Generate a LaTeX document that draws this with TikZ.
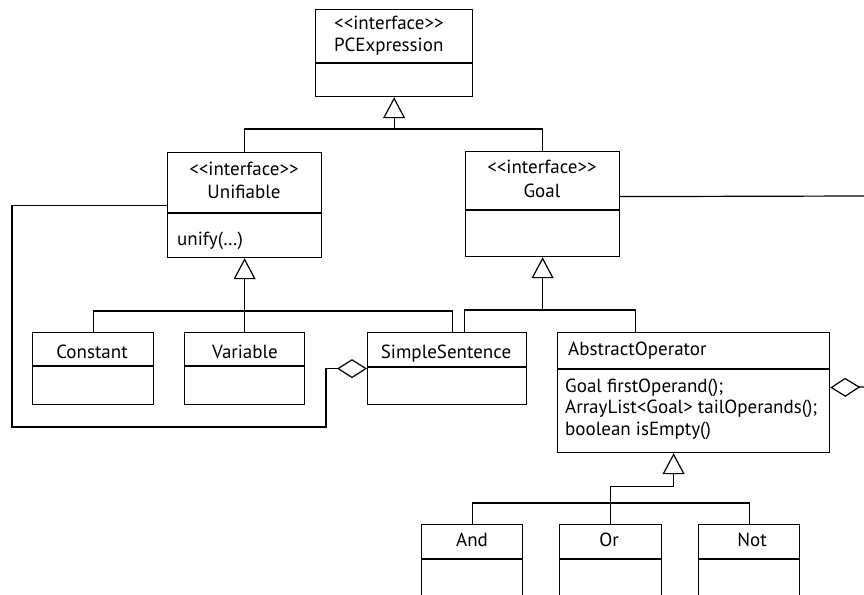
\documentclass[tikz,border=0pt]{standalone}
\usepackage{fontspec}
\newfontfamily\umlfont{PT Sans}
\usetikzlibrary{positioning, calc, arrows.meta}

\tikzset{
  classbox/.style={draw, line width=1.2pt, inner sep=0pt, anchor=north west},
  txt/.style={inner sep=0pt, font=\umlfont\fontsize{19}{21}\selectfont},
  link/.style={line width=1.2pt},
  inherit/.style={link, -{Triangle[open, length=21pt, width=22pt]}},
  aggr/.style={link, {Diamond[open, length=30pt, width=19pt]}-},
}

\begin{document}
\begin{tikzpicture}[x=1pt, y=-1pt]
  \clip (0,0) rectangle (864,594);
  % classes
  \node[classbox, minimum width=157pt, minimum height=87pt] (pce) at (315,9) {};
  \node[classbox, minimum width=154pt, minimum height=105pt] (unif) at (167,152) {};
  \node[classbox, minimum width=154pt, minimum height=105pt] (goal) at (465,151) {};
  \node[classbox, minimum width=121pt, minimum height=72pt] (const) at (32,332) {};
  \node[classbox, minimum width=120pt, minimum height=72pt] (var) at (184,332) {};
  \node[classbox, minimum width=159pt, minimum height=72pt] (simple) at (367,332) {};
  \node[classbox, minimum width=272pt, minimum height=120pt] (absop) at (557,332) {};
  \node[classbox, minimum width=101pt, minimum height=90pt] (and) at (421,524) {};
  \node[classbox, minimum width=102pt, minimum height=90pt] (or) at (559,524) {};
  \node[classbox, minimum width=101pt, minimum height=90pt] (not) at (698,524) {};

  % dividers
  \foreach \c/\y in {pce/63, unif/213, goal/210, const/366, var/366, simple/367, absop/369, and/559, or/559, not/559}
    \draw[link] (\c.west |- 0,\y) -- (\c.east |- 0,\y);

  % texts
  \node[txt, anchor=base west] (pcest) at (334,30) {<<interface>>};
  \node[txt, anchor=base west] (pcename) at (334,52) {PCExpression};
  \node[txt, anchor=base] (unifst) at (244,175) {<<interface>>};
  \node[txt, anchor=base] (unifname) at (244,198) {Unifiable};
  \node[txt, anchor=base west] (unifop) at (177,245) {unify(…)};
  \node[txt, anchor=base] (goalst) at (542,173) {<<interface>>};
  \node[txt, anchor=base] (goalname) at (542,197) {Goal};
  \node[txt, anchor=base] (constname) at (92,358) {Constant};
  \node[txt, anchor=base] (varname) at (245,358) {Variable};
  \node[txt, anchor=base] (simplename) at (446,358) {SimpleSentence};
  \node[txt, anchor=base west] (absopname) at (568,355) {AbstractOperator};
  \node[txt, anchor=base west] (absopa) at (565,392) {Goal firstOperand();};
  \node[txt, anchor=base west] (absopb) at (565,413) {ArrayList<Goal> tailOperands();};
  \node[txt, anchor=base west] (absopc) at (565,435) {boolean isEmpty()};
  \node[txt, anchor=base] (andname) at (472,546) {And};
  \node[txt, anchor=base] (orname) at (609,546) {Or};
  \node[txt, anchor=base] (notname) at (752,546) {Not};

  % PCExpression
  \coordinate (pcej) at (pce.south |- 0,129);
  \draw[link] (unif.north) |- (pcej);
  \draw[link] (goal.north) |- (pcej);
  \draw[inherit] (pcej) -- (pce.south);

  % Unifiable
  \coordinate (unifj) at (unif.south |- 0,311);
  \draw[inherit] (unifj) -- (unif.south);
  \draw[link] (const.north) |- (unifj);
  \draw[link] (var.north) -- (unifj);
  \draw[link] (unifj) -| ([xshift=5pt]simple.north);

  % Goal
  \coordinate (goalj) at (goal.south |- 0,310);
  \draw[inherit] (goalj) -- (goal.south);
  \draw[link] ([xshift=17pt]simple.north) |- (goalj) -| ([xshift=-58pt]absop.north);

  % AbstractOperator
  \coordinate (opj) at ($(absop.south)+(-20,33)$);
  \draw[inherit] (opj) -- ($(absop.south)+(-20,0)$);
  \draw[link] (opj) -| (or.north);
  \coordinate (opk) at (or.north |- 0,503);
  \draw[link] (and.north) |- (opk) -| (not.north);

  % aggregations
  \coordinate (loopa) at (326,427);
  \coordinate (loopb) at (12,427);
  \draw[aggr] (simple.west) -| (loopa) -- (loopb) |- (unif.west);
  \coordinate (edgea) at (864,196);
  \coordinate (edgeb) at (864,387);
  \draw[link] ([yshift=7.5pt]goal.east) -- (edgea);
  \draw[aggr] ([yshift=5pt]absop.east) -- (edgeb);
\end{tikzpicture}
\end{document}
